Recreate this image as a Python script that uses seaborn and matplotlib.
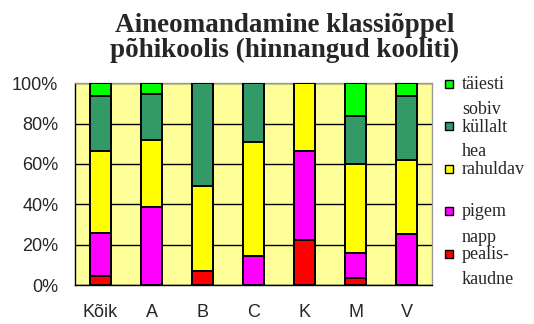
import numpy as np
import pandas as pd
import matplotlib
matplotlib.use("Agg")
import matplotlib.pyplot as plt
import seaborn as sns
from matplotlib.patches import Rectangle

categories = ["Kõik", "A", "B", "C", "K", "M", "V"]
pealiskaudne = [4.5, 0, 7.0, 0, 22.3, 3.3, 0]
pigem_napp = [21.5, 38.8, 0, 14.4, 44.2, 12.7, 25.2]
rahuldav = [40.5, 33.0, 42.3, 56.7, 33.5, 44.0, 37.0]
kullalt_hea = [27.0, 22.7, 50.7, 28.9, 0, 23.7, 31.5]
taiesti_sobiv = [6.5, 5.5, 0, 0, 0, 16.3, 6.3]

series_names = [["täiesti", "sobiv"], ["küllalt", "hea"], ["rahuldav"], ["pigem", "napp"], ["pealis-", "kaudne"]]
series_vals = [taiesti_sobiv, kullalt_hea, rahuldav, pigem_napp, pealiskaudne]
colors = ["#00FF00", "#339966", "#FFFF00", "#FF00FF", "#FF0000"]
yticklabels = ["0%", "20%", "40%", "60%", "80%", "100%"]

sns.set_theme(style="white")
plt.rcParams['font.family'] = ['Liberation Sans', 'DejaVu Sans']
serif = ["Liberation Serif", "DejaVu Serif"]

fig = plt.figure(figsize=(5.34, 3.24), dpi=100)
ax = fig.add_axes([75/534, 1-285/324, (432-75)/534, (285-83.3)/324])
ax.set_facecolor("#FFFF99")

stack_order = list(zip(series_names, series_vals, colors))
bottom_to_top = stack_order[::-1]
cum = np.zeros(len(categories))
cums = []
for name, vals, col in bottom_to_top:
    cum = cum + np.array(vals)
    cums.append((name, cum.copy(), col))
for name, c, col in cums[::-1]:
    df = pd.DataFrame({"cat": categories, "val": c})
    sns.barplot(data=df, x="cat", y="val", color=col, width=0.4,
                edgecolor="black", linewidth=1.4, saturation=1, ax=ax, zorder=3)

ax.set_ylim(0, 100)
ax.set_xlim(-0.5, len(categories) - 0.5)
ax.set_yticks([0, 20, 40, 60, 80, 100])
ax.set_yticklabels(yticklabels, fontsize=13)
ax.set_xticks(range(len(categories)))
ax.set_xticklabels(categories, fontsize=13)
ax.set_xticks(np.arange(-0.5, len(categories), 1), minor=True)
ax.tick_params(axis="x", which="major", length=0, pad=14)
ax.tick_params(axis="x", which="minor", length=3.6, width=1, color="black", direction="out")
ax.tick_params(axis="y", length=5, width=1, color="black", direction="out", pad=7)
ax.set_xlabel("")
ax.set_ylabel("")
ax.grid(axis="y", color="black", linewidth=1, zorder=1)
ax.set_axisbelow(True)
for s in ["left", "bottom"]:
    ax.spines[s].set_color("black")
    ax.spines[s].set_linewidth(1)
for s in ["top", "right"]:
    ax.spines[s].set_color("#999999")
    ax.spines[s].set_linewidth(1)

fig.text(285/534, 1-32/324, "Aineomandamine klassiõppel",
         ha="center", va="baseline", fontsize=19.5, fontweight="bold", family=serif)
fig.text(285/534, 1-57/324, "põhikoolis (hinnangud kooliti)",
         ha="center", va="baseline", fontsize=19.5, fontweight="bold", family=serif)

# legend
baselines = [89, 131.5, 174, 216.5, 259]
for (lines, vals, col), b in zip(stack_order, baselines):
    fig.patches.append(Rectangle((445/534, 1-(b-1.5)/324), 8/534, 8/324,
                                 transform=fig.transFigure, facecolor=col,
                                 edgecolor="black", linewidth=1))
    for i, ln in enumerate(lines):
        fig.text(462/534, 1-(b + 25*i)/324, ln, ha="left", va="baseline",
                 fontsize=13, family=serif)

fig.savefig("out.png", dpi=100)
